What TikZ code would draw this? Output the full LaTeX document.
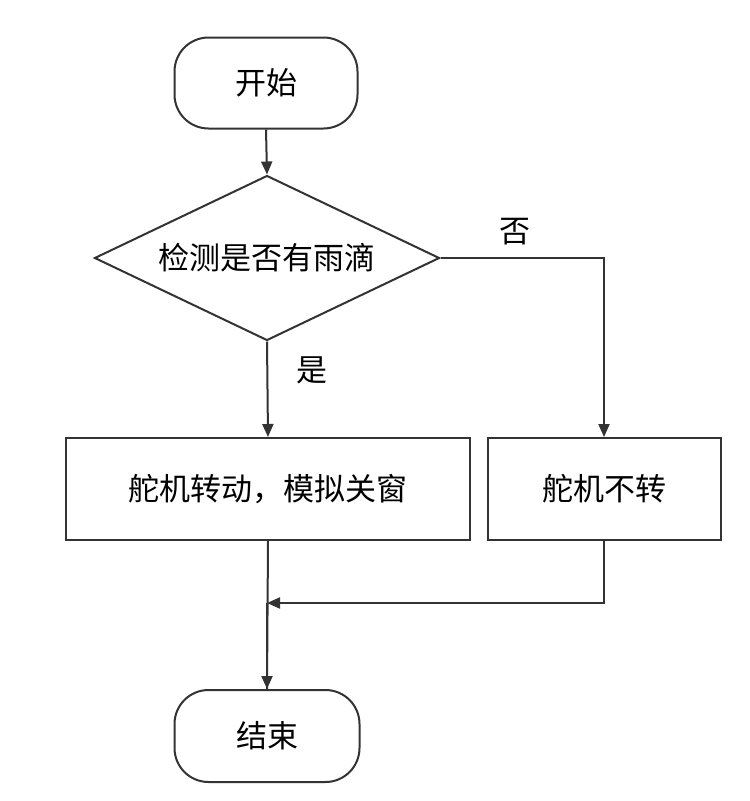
\documentclass[tikz,border=0pt]{standalone}
\usepackage{fontspec}
\newfontfamily\cjk{Noto Sans CJK SC}
\usetikzlibrary{shapes.geometric,arrows.meta}
\begin{document}
\begin{tikzpicture}[x=1pt,y=-1pt,
  ln/.style={draw=black!80,line width=2pt},
  arr/.style={ln,-{Triangle[length=13pt,width=11pt]}},
  box/.style={ln,fill=white,inner sep=0pt,font=\cjk\fontsize{31}{36}\selectfont},
  lab/.style={font=\cjk\fontsize{31}{36}\selectfont}]
\useasboundingbox[fill=white] (0,0) rectangle (750,801);
\node[box,rounded corners=34pt,minimum width=183pt,minimum height=91pt] (start) at (266,83) {开始};
\node[box,diamond,aspect=2.09,minimum width=345pt,minimum height=165pt] (dec) at (267,258) {};
\node[lab] at (267,258) {检测是否有雨滴};
\node[box,minimum width=404pt,minimum height=102pt] (b1) at (268,489) {舵机转动，模拟关窗};
\node[box,minimum width=233pt,minimum height=102pt] (b2) at (604,489) {舵机不转};
\node[box,rounded corners=34pt,minimum width=185pt,minimum height=92pt] (end) at (267,736) {结束};
\node[lab] (no) at (515,232) {否};
\node[lab] (yes) at (312,370) {是};
\coordinate (m) at (267,603);
\draw[arr] (start.south) -- (dec.north);
\draw[arr] (dec.south) -- (b1.north);
\draw[arr] (dec.east) -| (b2.north);
\draw[ln] (b1.south) -- (end.north);
\draw[arr] (b2.south) |- (m);
\draw[arr] (m) -- (end.north);
\end{tikzpicture}
\end{document}
